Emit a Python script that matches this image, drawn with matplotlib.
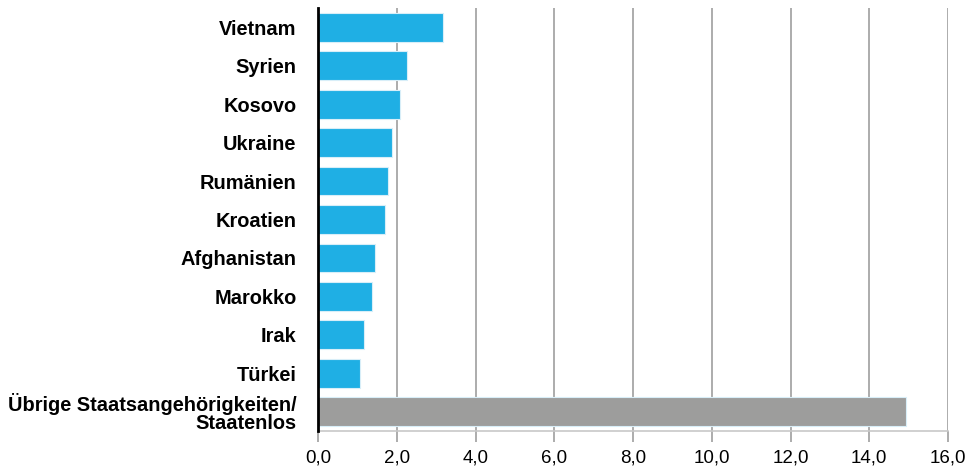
import matplotlib
matplotlib.use("Agg")
import matplotlib.pyplot as plt

categories = ["Vietnam", "Syrien", "Kosovo", "Ukraine", "Rumänien", "Kroatien",
              "Afghanistan", "Marokko", "Irak", "Türkei",
              "Übrige Staatsangehörigkeiten/\nStaatenlos"]
values = [3.17, 2.26, 2.08, 1.87, 1.79, 1.69, 1.46, 1.37, 1.16, 1.07, 14.93]
colors = ["#1fafe4"] * 10 + ["#9d9d9c"]
xticks = [0, 2, 4, 6, 8, 10, 12, 14, 16]
xticklabels = ["0,0", "2,0", "4,0", "6,0", "8,0", "10,0", "12,0", "14,0", "16,0"]

plt.rcParams['font.family'] = ['Liberation Sans', 'DejaVu Sans']

fig = plt.figure(figsize=(9.69, 4.71), dpi=100)
ax = fig.add_axes([318/969, 1 - 431/471, 630/969, 423/471])

ypos = list(range(len(categories)))
ax.barh(ypos, values, height=0.75, color=colors, edgecolor="#d8eef8", linewidth=0.8, zorder=3)

ax.set_ylim(len(categories) - 0.5, -0.5)
ax.set_xlim(0, 16)
ax.set_xticks(xticks)
ax.set_xticklabels(xticklabels, fontsize=13.5)
ax.set_yticks(ypos)
ax.set_yticklabels(categories, fontsize=14.4, fontweight="bold", linespacing=0.9)
for lab in ax.get_yticklabels():
    lab.set_horizontalalignment("right")

ax.grid(axis="x", color="#a6a6a6", linewidth=1.3, zorder=0)
ax.tick_params(axis="x", length=8, width=1.3, color="#a6a6a6", pad=5)
ax.tick_params(axis="y", length=0, pad=15.5)

for s in ["top", "right"]:
    ax.spines[s].set_visible(False)
ax.spines["left"].set_color("black")
ax.spines["left"].set_linewidth(2)
ax.spines["left"].set_zorder(4)
ax.spines["bottom"].set_color("#c8c8c8")
ax.spines["bottom"].set_linewidth(1.2)

fig.savefig("out.png", dpi=100)
